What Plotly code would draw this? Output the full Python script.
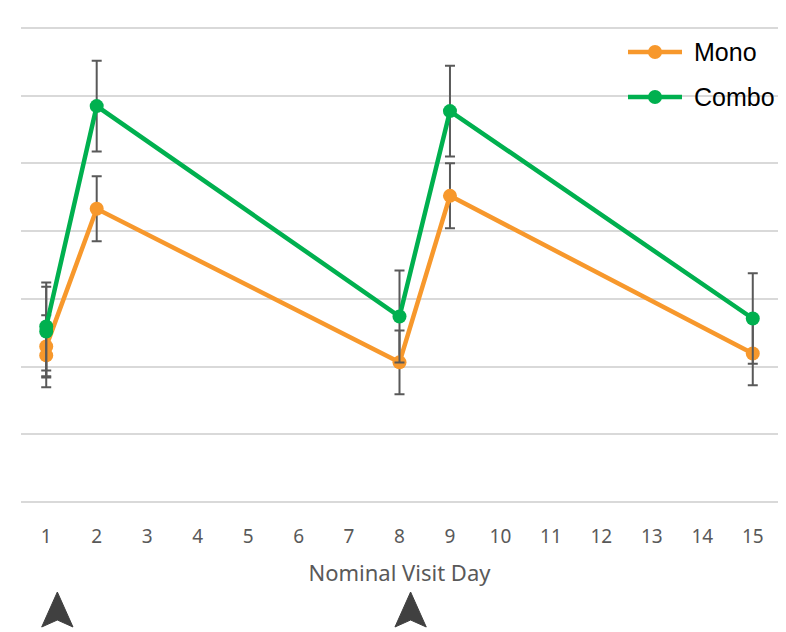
import plotly.graph_objects as go

# ---- data ----
days = [1, 1, 2, 8, 9, 15]
mono = [2.165, 2.297, 4.330, 2.062, 4.521, 2.194]
mono_err = [0.47, 0.46, 0.48, 0.47, 0.48, 0.47]
combo = [2.518, 2.592, 5.847, 2.739, 5.773, 2.710]
combo_err = [0.66, 0.65, 0.67, 0.68, 0.67, 0.67]
tick_days = list(range(1, 16))
dose_days = [1, 8]
series_names = ["Mono", "Combo"]
ORANGE = "#F7982C"
GREEN = "#00B04F"
ERR = "#595959"

fig = go.Figure()
for name, y, e, c in [("Mono", mono, mono_err, ORANGE), ("Combo", combo, combo_err, GREEN)]:
    fig.add_trace(go.Scatter(
        x=days, y=y, name=name, mode="lines+markers",
        line=dict(color=c, width=4.5),
        marker=dict(color=c, size=14),
        error_y=dict(type="data", array=e, visible=True, color=ERR, thickness=2, width=5),
        showlegend=False,
    ))

W, H = 786, 632
ml, mr, mt, mb = 21, 8, 27, 129
pw, ph = W - ml - mr, H - mt - mb

def px2paper(px, py):
    return (px - ml) / pw, (H - mb - py) / ph

shapes = []
annotations = []
# manual legend
for i, (name, c) in enumerate(zip(series_names, [ORANGE, GREEN])):
    py = 52 + i * 45
    x0, y0 = px2paper(628, py)
    x1, _ = px2paper(682, py)
    shapes.append(dict(type="line", xref="paper", yref="paper", x0=x0, x1=x1, y0=y0, y1=y0,
                       line=dict(color=c, width=4.5)))
    cx, cy = px2paper(655, py)
    rx, ry = 7 / pw, 7 / ph
    shapes.append(dict(type="circle", xref="paper", yref="paper", x0=cx - rx, x1=cx + rx,
                       y0=cy - ry, y1=cy + ry, fillcolor=c, line=dict(width=0)))
    tx, _ = px2paper(692, py)
    annotations.append(dict(xref="paper", yref="paper", x=tx, y=cy, text=name, showarrow=False,
                            xanchor="left", yanchor="middle",
                            font=dict(family="Liberation Sans", size=25, color="#000000")))

# dosing arrows
_, ytip = px2paper(0, 592)
_, ybot = px2paper(0, 627)
_, ynotch = px2paper(0, 620)
for d in dose_days:
    xc = d + 0.22
    hw = 0.31
    path = f"M {xc},{ytip} L {xc+hw},{ybot} L {xc},{ynotch} L {xc-hw},{ybot} Z"
    shapes.append(dict(type="path", xref="x", yref="paper", path=path,
                       fillcolor="#404040", line=dict(color="#404040", width=1)))

fig.update_layout(
    width=W, height=H,
    margin=dict(l=ml, r=mr, t=mt, b=mb, autoexpand=False),
    plot_bgcolor="white", paper_bgcolor="white",
    shapes=shapes, annotations=annotations,
    font=dict(family="Noto Sans", color="#595959"),
    xaxis=dict(range=[0.5, 15.5], tickvals=tick_days, ticktext=[str(t) for t in tick_days],
               showgrid=False, zeroline=False, showline=False, automargin=False,
               tickfont=dict(size=19, color="#595959"), ticklabelstandoff=20,
               title=dict(text="Nominal Visit Day", font=dict(size=22, color="#595959"), standoff=17)),
    yaxis=dict(range=[-0.015, 7.015], tickvals=list(range(0, 8)), showgrid=True,
               gridcolor="#D9D9D9", gridwidth=2, automargin=False,
               zeroline=True, zerolinecolor="#D9D9D9", zerolinewidth=2,
               showticklabels=False, showline=False),
)
fig.write_html("out.html", config={"displayModeBar": False},
               post_script="document.body.style.margin='0px';")
